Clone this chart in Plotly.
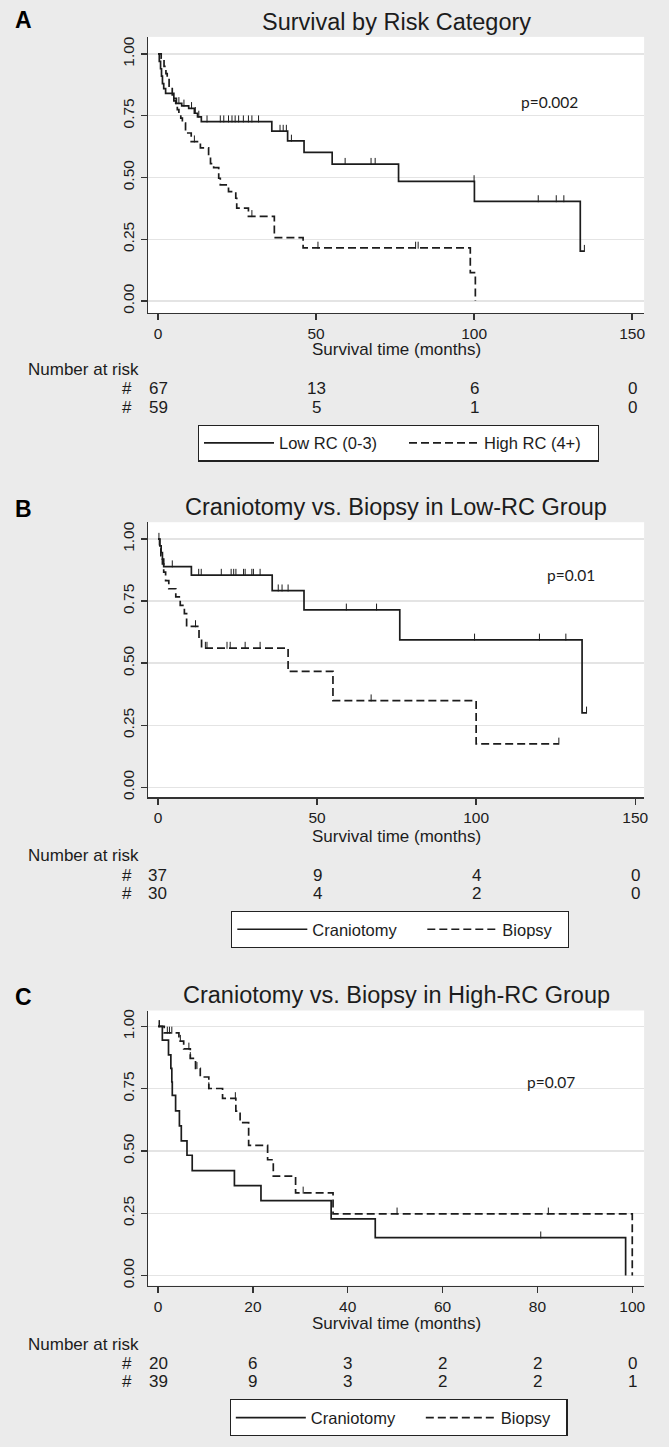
import plotly.graph_objects as go

# ---------------- Panel A: Survival by Risk Category ----------------
A_low_t = [0, 0.4, 0.8, 1.1, 1.4, 1.8, 2.4, 5.0, 5.8, 7.5, 9.7, 11.5, 12.5, 13.7, 36.0, 41.0, 46.2, 55.1, 76.1, 100.1, 133.6, 134.9]
A_low_s = [1.0, 0.97, 0.94, 0.91, 0.88, 0.86, 0.84, 0.82, 0.80, 0.79, 0.78, 0.76, 0.745, 0.726, 0.688, 0.648, 0.602, 0.554, 0.484, 0.403, 0.202, 0.202]
A_low_cens = [6.6, 8.2, 10.6, 11.8, 12.9, 15.5, 19.7, 20.8, 22.3, 23.4, 24.4, 25.5, 27.0, 28.6, 29.7, 31.8,
              38.6, 39.6, 40.6, 42.2, 59.2, 67.4, 68.7, 100.0, 120.3, 126.0, 128.4, 134.9]
A_high_t = [0, 1.0, 1.9, 2.5, 2.9, 3.5, 4.5, 5.0, 5.6, 6.1, 6.6, 7.2, 7.7, 8.7, 10.5, 13.4, 16.0, 16.6, 17.6, 19.2,
            19.7, 22.3, 24.6, 24.9, 28.6, 36.8, 45.9, 98.8, 100.4]
A_high_s = [1.0, 0.983, 0.95, 0.92, 0.90, 0.87, 0.83, 0.81, 0.79, 0.775, 0.76, 0.74, 0.72, 0.68, 0.645, 0.62, 0.593,
            0.556, 0.54, 0.497, 0.47, 0.443, 0.416, 0.376, 0.343, 0.257, 0.215, 0.115, 0.0]
A_high_cens = [11.5, 29.7, 50.6, 81.5, 82.3]
A_ticks = [0, 50, 100, 150]
A_risk_low = [67, 13, 6, 0]
A_risk_high = [59, 5, 1, 0]

# ---------------- Panel B: Craniotomy vs Biopsy, Low-RC ----------------
B_cran_t = [0, 0.6, 1.0, 1.4, 1.8, 10.5, 35.9, 45.9, 76.0, 133.3, 134.7]
B_cran_s = [1.0, 0.973, 0.946, 0.919, 0.889, 0.855, 0.792, 0.715, 0.594, 0.30, 0.30]
B_cran_cens = [0.3, 4.5, 12.8, 13.6, 19.9, 23.0, 23.8, 24.5, 26.9, 27.4, 29.5, 30.0, 32.1, 37.8, 39.0, 40.9,
               59.2, 68.7, 99.5, 119.9, 128.2, 134.7]
B_biop_t = [0, 0.5, 0.9, 1.4, 1.8, 2.4, 3.4, 5.6, 7.0, 8.3, 9.0, 12.9, 13.7, 40.9, 55.0, 100.0, 126.0]
B_biop_s = [1.0, 0.967, 0.933, 0.90, 0.867, 0.833, 0.80, 0.767, 0.733, 0.70, 0.648, 0.60, 0.561, 0.467, 0.349,
            0.175, 0.175]
B_biop_cens = [11.8, 14.9, 15.4, 21.7, 22.7, 27.4, 32.1, 67.0, 126.0]
B_ticks = [0, 50, 100, 150]
B_risk_cran = [37, 9, 4, 0]
B_risk_biop = [30, 4, 2, 0]

# ---------------- Panel C: Craniotomy vs Biopsy, High-RC ----------------
C_cran_t = [0, 0.9, 2.2, 2.7, 2.9, 3.0, 3.7, 4.5, 4.9, 6.1, 7.2, 16.1, 21.7, 36.5, 45.8, 98.6]
C_cran_s = [1.0, 0.945, 0.886, 0.832, 0.777, 0.723, 0.661, 0.601, 0.541, 0.483, 0.421, 0.361, 0.301, 0.228,
            0.152, 0.0]
C_cran_cens = [0.2, 80.7]
C_biop_t = [0, 1.3, 4.4, 5.4, 6.8, 7.9, 8.9, 10.7, 13.6, 16.4, 17.3, 19.1, 23.1, 24.3, 29.0, 36.9, 100.0]
C_biop_s = [1.0, 0.974, 0.941, 0.91, 0.872, 0.832, 0.797, 0.751, 0.711, 0.66, 0.614, 0.523, 0.465, 0.399,
            0.332, 0.248, 0.0]
C_biop_cens = [0.3, 1.95, 2.4, 2.9, 4.7, 6.5, 6.8, 8.2, 10.7, 16.3, 30.6, 50.4, 82.3]
C_ticks = [0, 20, 40, 60, 80, 100]
C_risk_cran = [20, 6, 3, 2, 2, 0]
C_risk_biop = [39, 9, 3, 2, 2, 1]

TITLES = ["Survival by Risk Category", "Craniotomy vs. Biopsy in Low-RC Group",
          "Craniotomy vs. Biopsy in High-RC Group"]
LETTERS = ["A", "B", "C"]
PVALS = ["p=0.002", "p=0.01", "p=0.07"]
PVAL_POS = [(123.9, 0.806), (129.7, 0.855), (82.8, 0.776)]
NAMES = [("Low RC (0-3)", "High RC (4+)"), ("Craniotomy", "Biopsy"), ("Craniotomy", "Biopsy")]

# ---------------- styling / layout constants ----------------
W, H = 669, 1447
BG = "#ebebeb"
INK = "#1c1c1c"
FONT = "Liberation Sans, Arial, sans-serif"
DASH = "8px,4px"
TICK_LIFT = 0.011


def py(p):
    return 1 - p / H


def px(p):
    return p / W


def step_at(ts, ss, t):
    val = ss[0]
    for ti, si in zip(ts, ss):
        if ti <= t:
            val = si
    return val


panels = [
    dict(curves=[(A_low_t, A_low_s, A_low_cens), (A_high_t, A_high_s, A_high_cens)],
         ticks=A_ticks, risk=[A_risk_low, A_risk_high], xr=[-3.14, 153.8], yr=[-0.048, 1.069],
         top=35, bot=312, title_y=20, letter_y=18.5, ticklab=330, xlab=349, nar=369, rows=(388, 407),
         leg=(199, 424), lw=(120, 108)),
    dict(curves=[(B_cran_t, B_cran_s, B_cran_cens), (B_biop_t, B_biop_s, B_biop_cens)],
         ticks=B_ticks, risk=[B_risk_cran, B_risk_biop], xr=[-3.1, 152.8], yr=[-0.040, 1.068],
         top=522, bot=798, title_y=507, letter_y=508.5, ticklab=817, xlab=837, nar=856, rows=(876.5, 894.5),
         leg=(232.5, 912), lw=(105, 60)),
    dict(curves=[(C_cran_t, C_cran_s, C_cran_cens), (C_biop_t, C_biop_s, C_biop_cens)],
         ticks=C_ticks, risk=[C_risk_cran, C_risk_biop], xr=[-2.1, 102.5], yr=[-0.040, 1.064],
         top=1012, bot=1288, title_y=996, letter_y=998.5, ticklab=1307.5, xlab=1326, nar=1347,
         rows=(1366.5, 1384.5), leg=(231, 1402), lw=(105, 60)),
]

fig = go.Figure()
annotations = []
layout_axes = {}
X0, X1 = 149, 648

for i, p in enumerate(panels):
    k = "" if i == 0 else str(i + 1)
    xa, ya = "x" + k, "y" + k
    legname = "legend" + k
    for j, (ts, ss, cens) in enumerate(p["curves"]):
        dash = "solid" if j == 0 else DASH
        fig.add_trace(go.Scatter(
            x=ts, y=ss, mode="lines", line=dict(color=INK, width=1.7, dash=dash, shape="hv"),
            name=NAMES[i][j], xaxis=xa, yaxis=ya, legend=legname, legendwidth=p["lw"][j],
            showlegend=True, hoverinfo="skip"))
        fig.add_trace(go.Scatter(
            x=cens, y=[step_at(ts, ss, c) + TICK_LIFT for c in cens], mode="markers",
            marker=dict(symbol="line-ns", size=5, line=dict(color=INK, width=1)),
            xaxis=xa, yaxis=ya, showlegend=False, hoverinfo="skip"))

    layout_axes["xaxis" + k] = dict(
        domain=[px(X0), px(X1)], range=p["xr"], anchor=ya, tickvals=p["ticks"],
        ticks="outside", ticklen=6, tickwidth=1.4, tickcolor="#333", showline=True, linecolor="#333",
        linewidth=1.5, showgrid=False, zeroline=False, tickfont=dict(size=15.5, color=INK, family=FONT),
        fixedrange=True)
    layout_axes["yaxis" + k] = dict(
        domain=[py(p["bot"]), py(p["top"])], range=p["yr"], anchor=xa, tickvals=[0, 0.25, 0.5, 0.75, 1],
        tickformat=".2f", tickangle=-90, ticks="outside", ticklen=6, tickwidth=1.4, tickcolor="#333",
        showline=True, linecolor="#333", linewidth=1.5, showgrid=True, gridcolor="#e4e4e4", gridwidth=1.5,
        zeroline=False, tickfont=dict(size=15.5, color=INK, family=FONT), fixedrange=True)

    layout_axes[legname] = dict(
        orientation="h", x=px(p["leg"][0]), y=py(p["leg"][1]), xanchor="left", yanchor="top",
        bgcolor="white", bordercolor="#222", borderwidth=1.2, itemwidth=70,
        font=dict(size=16.5, color=INK, family=FONT), traceorder="normal")

    # title and panel letter
    annotations.append(dict(text=TITLES[i], x=px((X0 + X1) / 2), y=py(p["title_y"]), xref="paper",
                            yref="paper", showarrow=False, xanchor="center", yanchor="middle",
                            font=dict(size=23.5, color=INK, family=FONT)))
    annotations.append(dict(text="<b>" + LETTERS[i] + "</b>", x=px(24), y=py(p["letter_y"]), xref="paper",
                            yref="paper", showarrow=False, xanchor="center", yanchor="middle",
                            font=dict(size=23, color="black", family=FONT)))
    # p-value
    annotations.append(dict(text=PVALS[i], x=PVAL_POS[i][0], y=PVAL_POS[i][1], xref=xa, yref=ya,
                            showarrow=False, xanchor="center", yanchor="middle",
                            font=dict(size=15.5, color=INK, family="Lato, Open Sans, sans-serif")))
    # axis title
    annotations.append(dict(text="Survival time (months)", x=px(399), y=py(p["xlab"]), xref="paper",
                            yref="paper", showarrow=False, xanchor="center", yanchor="middle",
                            font=dict(size=17, color=INK, family=FONT)))
    # number at risk table
    annotations.append(dict(text="Number at risk", x=px(26), y=py(p["nar"]), xref="paper", yref="paper",
                            showarrow=False, xanchor="left", yanchor="middle",
                            font=dict(size=17, color=INK, family=FONT)))
    for r, row in enumerate(p["risk"]):
        annotations.append(dict(text="#", x=px(135), y=py(p["rows"][r]), xref="paper", yref="paper",
                                showarrow=False, xanchor="right", yanchor="middle",
                                font=dict(size=17, color=INK, family=FONT)))
        for tv, n in zip(p["ticks"], row):
            annotations.append(dict(text=str(n), x=tv, y=py(p["rows"][r]), xref=xa, yref="paper",
                                    showarrow=False, xanchor="center", yanchor="middle",
                                    font=dict(size=17, color=INK, family=FONT)))

fig.update_layout(
    width=W, height=H, margin=dict(l=0, r=0, t=0, b=0, pad=0),
    paper_bgcolor=BG, plot_bgcolor="white", font=dict(family=FONT, color=INK),
    annotations=annotations, **layout_axes)

fig.write_html("out.html", config={"displayModeBar": False, "staticPlot": True},
               post_script="document.body.style.margin='0px';document.body.style.padding='0px';")
